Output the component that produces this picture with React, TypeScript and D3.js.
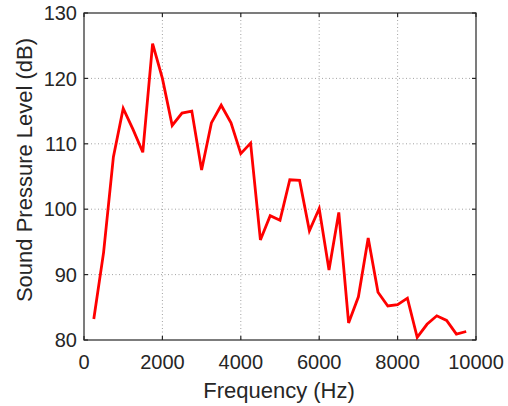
import React from "react";
import * as d3 from "d3";

const freqs = [250, 500, 750, 1000, 1250, 1500, 1750, 2000, 2250, 2500, 2750, 3000, 3250, 3500, 3750, 4000, 4250, 4500, 4750, 5000, 5250, 5500, 5750, 6000, 6250, 6500, 6750, 7000, 7250, 7500, 7750, 8000, 8250, 8500, 8750, 9000, 9250, 9500, 9750];
const spl = [83.2, 93.4, 108.0, 115.4, 112.2, 108.7, 125.3, 120.0, 112.8, 114.7, 115.0, 106.0, 113.2, 115.9, 113.2, 108.5, 110.1, 95.3, 99.0, 98.3, 104.5, 104.4, 96.7, 100.1, 90.7, 99.5, 82.6, 86.6, 95.6, 87.3, 85.2, 85.4, 86.4, 80.4, 82.4, 83.7, 83.0, 80.9, 81.3];
const xTicks = [0, 2000, 4000, 6000, 8000, 10000];
const yTicks = [80, 90, 100, 110, 120, 130];
const xLabel = "Frequency (Hz)";
const yLabel = "Sound Pressure Level (dB)";

export default function App() {
  const W = 508, H = 406;
  const left = 84, right = 476, top = 13, bottom = 340;
  const x = d3.scaleLinear().domain([0, 10000]).range([left, right]);
  const y = d3.scaleLinear().domain([80, 130]).range([bottom, top]);
  const line = d3.line<number>().x((_, i) => x(freqs[i])).y((d) => y(d));
  const axisColor = "#262626";
  const font = "'Liberation Sans', Arial, Helvetica, sans-serif";
  const tl = 4;
  return (
    <svg width={W} height={H} style={{ position: "absolute", left: 0, top: 0 }}>
      <rect x={0} y={0} width={W} height={H} fill="#fff" />
      <rect x={left} y={top} width={right - left} height={bottom - top} fill="#fff" />
      {xTicks.slice(1, -1).map((t) => (
        <line key={"gx" + t} x1={x(t)} x2={x(t)} y1={top} y2={bottom} stroke="#8a8a8a" strokeWidth={0.8} strokeDasharray="1,2.5" />
      ))}
      {yTicks.slice(1, -1).map((t) => (
        <line key={"gy" + t} x1={left} x2={right} y1={y(t)} y2={y(t)} stroke="#8a8a8a" strokeWidth={0.8} strokeDasharray="1,2.5" />
      ))}
      <path d={line(spl) || ""} fill="none" stroke="#ff0000" strokeWidth={2.8} strokeLinejoin="miter" />
      <rect x={left} y={top} width={right - left} height={bottom - top} fill="none" stroke={axisColor} strokeWidth={1.2} />
      {xTicks.map((t) => (
        <g key={"tx" + t}>
          <line x1={x(t)} x2={x(t)} y1={bottom} y2={bottom - tl} stroke={axisColor} strokeWidth={1.2} />
          <line x1={x(t)} x2={x(t)} y1={top} y2={top + tl} stroke={axisColor} strokeWidth={1.2} />
          <text x={x(t)} y={369} textAnchor="middle" fontFamily={font} fontSize={20} fill={axisColor}>{t}</text>
        </g>
      ))}
      {yTicks.map((t) => (
        <g key={"ty" + t}>
          <line x1={left} x2={left + tl} y1={y(t)} y2={y(t)} stroke={axisColor} strokeWidth={1.2} />
          <line x1={right} x2={right - tl} y1={y(t)} y2={y(t)} stroke={axisColor} strokeWidth={1.2} />
          <text x={left - 7} y={y(t)} dy="0.36em" textAnchor="end" fontFamily={font} fontSize={20} fill={axisColor}>{t}</text>
        </g>
      ))}
      <text x={(left + right) / 2 - 1} y={398} textAnchor="middle" fontFamily={font} fontSize={22} fill={axisColor}>{xLabel}</text>
      <text transform={`translate(32,170) rotate(-90)`} textAnchor="middle" fontFamily={font} fontSize={22} fill={axisColor}>{yLabel}</text>
    </svg>
  );
}
